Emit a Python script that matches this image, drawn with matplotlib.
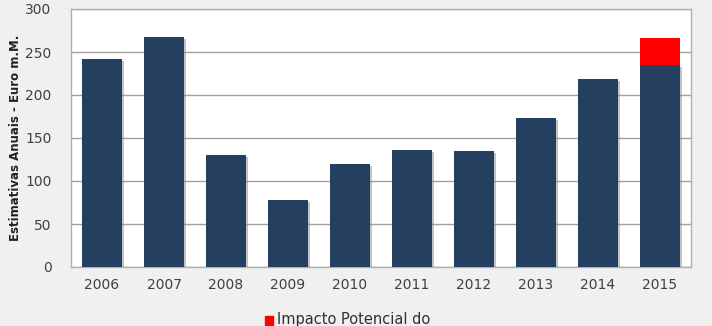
import matplotlib
matplotlib.use("Agg")
import matplotlib.pyplot as plt
import matplotlib.patheffects as pe
import numpy as np

years = ["2006", "2007", "2008", "2009", "2010", "2011", "2012", "2013", "2014", "2015"]
base_values = [242, 267, 130, 78, 120, 136, 135, 173, 219, 235]
impact_values = [0, 0, 0, 0, 0, 0, 0, 0, 0, 31]
yticks = [0, 50, 100, 150, 200, 250, 300]
ylabel = "Estimativas Anuais - Euro m.M."
legend_label = "Impacto Potencial do"

plt.rcParams['font.family'] = ['DejaVu Sans']
fig = plt.figure(figsize=(7.12, 3.26), dpi=100, facecolor="#f0f0f0")
ax = fig.add_axes([71/712, 59/326, 620/712, 258/326])
ax.set_facecolor("white")

x = np.arange(len(years))
shadow = [pe.SimplePatchShadow(offset=(1.5, -1.5), shadow_rgbFace="#888888", alpha=0.5), pe.Normal()]
ax.bar(x, base_values, width=0.64, color="#243f60", zorder=3, path_effects=shadow)
ax.bar(x, impact_values, width=0.64, bottom=base_values, color="#ff0000", zorder=3)

ax.set_xlim(-0.5, len(years) - 0.5)
ax.set_ylim(0, 300)
ax.set_yticks(yticks)
ax.set_xticks(x)
ax.set_xticklabels(years)
ax.yaxis.grid(True, color="#a0a0a0", linewidth=1.0, zorder=0)
ax.tick_params(axis="both", length=0, labelsize=10, colors="#404040", pad=8)
ax.tick_params(axis="y", pad=14)
for s in ax.spines.values():
    s.set_color("#b0b0b0")
    s.set_linewidth(1.0)
ax.set_ylabel(ylabel, fontsize=8.5, fontweight="bold", color="#202020", labelpad=2)

fig.patches.append(plt.Rectangle((265/712, 1 - 325/326), 8/712, 9/326,
                                 transform=fig.transFigure, color="#ff0000", clip_on=False))
fig.text(277/712, 1 - 312/326, legend_label, fontsize=10.5, color="#303030", va="top", ha="left")

fig.savefig("out.png", dpi=100, facecolor=fig.get_facecolor())
